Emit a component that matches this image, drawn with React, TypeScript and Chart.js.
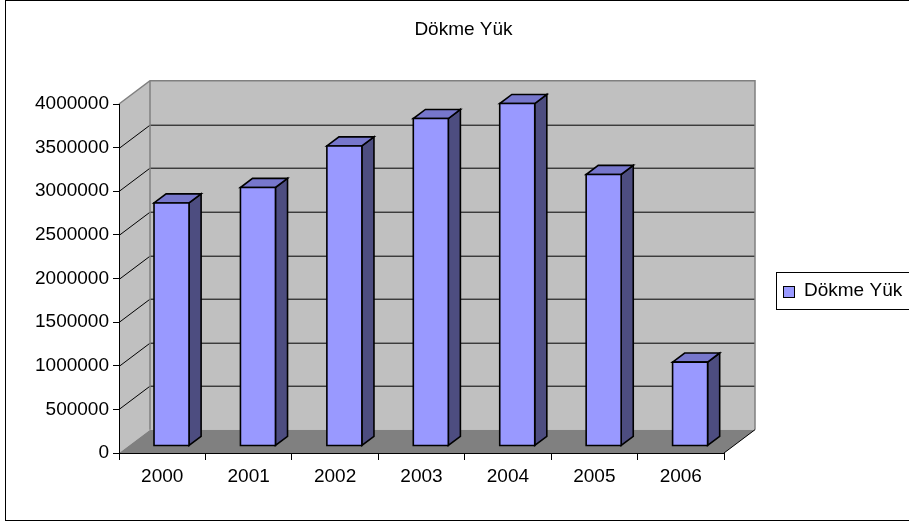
import React, { useEffect, useRef } from "react";
import { Chart, registerables } from "chart.js";

Chart.register(...registerables);

// Bulk cargo handled per year
const years = ["2000", "2001", "2002", "2003", "2004", "2005", "2006"];
const bulkCargo = [2786000, 2963000, 3439000, 3753000, 3925000, 3112000, 962000];
const seriesLabel = "Dökme Yük";
const chartTitle = "Dökme Yük";
const valueAxisMax = 4000000;
const valueAxisStep = 500000;

const FONT = "'Liberation Sans', Arial, Helvetica, sans-serif";

// oblique projection of the plot box
const DEPTH = { x: 31, y: -23.3 };
const BAR_FRONT = 0.3;
const BAR_BACK = 0.69;

const BAR_FACE = "#9999FF";
const BAR_TOP = "#7777CC";
const BAR_SIDE = "#4D4D80";
const WALL = "#C0C0C0";
const FLOOR = "#808080";

function poly(ctx: CanvasRenderingContext2D, pts: number[][]) {
  ctx.beginPath();
  ctx.moveTo(pts[0][0], pts[0][1]);
  for (let i = 1; i < pts.length; i++) ctx.lineTo(pts[i][0], pts[i][1]);
  ctx.closePath();
}

const boxPlugin = {
  id: "box3d",
  afterLayout(chart: any) {
    // centre the title over the whole frame, legend area included
    const tb = chart.titleBlock;
    if (tb) {
      tb.left = 18;
      tb.right = chart.width;
    }
  },
  beforeDraw(chart: any) {
    const { ctx, chartArea: a, scales } = chart;
    const y = scales.y;
    const dx = DEPTH.x;
    const dy = DEPTH.y;
    ctx.save();
    ctx.fillStyle = "#FFFFFF";
    ctx.fillRect(0, 0, chart.width, chart.height);

    // outer frame
    ctx.strokeStyle = "#000";
    ctx.lineWidth = 1;
    ctx.strokeRect(5.5, 0.5, chart.width + 40, 520);

    const L = a.left, R = a.right, T = a.top, B = a.bottom;

    // back wall
    ctx.fillStyle = WALL;
    ctx.fillRect(L + dx, T + dy, R - L, B - T);
    // side wall
    poly(ctx, [[L, T], [L + dx, T + dy], [L + dx, B + dy], [L, B]]);
    ctx.fill();
    // floor
    ctx.fillStyle = FLOOR;
    poly(ctx, [[L, B], [R, B], [R + dx, B + dy], [L + dx, B + dy]]);
    ctx.fill();

    // gridlines across side wall and back wall
    ctx.strokeStyle = "#000";
    ctx.lineWidth = 1;
    for (const t of y.ticks) {
      if (t.value <= 0 || t.value >= valueAxisMax) continue;
      const py = Math.round(y.getPixelForValue(t.value)) + 0.5;
      ctx.beginPath();
      ctx.moveTo(L, py);
      ctx.lineTo(L + dx, py + dy);
      ctx.lineTo(R + dx, py + dy);
      ctx.stroke();
    }

    // wall outlines
    ctx.strokeStyle = "#808080";
    ctx.lineWidth = 1.5;
    ctx.beginPath();
    ctx.moveTo(L, T);
    ctx.lineTo(L + dx, T + dy);
    ctx.lineTo(R + dx, T + dy);
    ctx.lineTo(R + dx, B + dy);
    ctx.moveTo(L + dx, T + dy);
    ctx.lineTo(L + dx, B + dy);
    ctx.stroke();

    // floor right edge
    ctx.strokeStyle = "#000";
    ctx.lineWidth = 1;
    ctx.beginPath();
    ctx.moveTo(R, B);
    ctx.lineTo(R + dx, B + dy);
    ctx.stroke();
    ctx.restore();
  },
  beforeDatasetDraw(chart: any, args: any) {
    const { ctx } = chart;
    const meta = args.meta;
    const fx = DEPTH.x * BAR_FRONT;
    const fy = DEPTH.y * BAR_FRONT;
    const bx = DEPTH.x * (BAR_BACK - BAR_FRONT);
    const by = DEPTH.y * (BAR_BACK - BAR_FRONT);
    ctx.save();
    ctx.lineWidth = 1.6;
    ctx.strokeStyle = "#000";
    ctx.lineJoin = "miter";
    for (const el of meta.data) {
      const { x, y, base, width } = el.getProps(["x", "y", "base", "width"], true);
      const x0 = x - width / 2 + fx;
      const x1 = x + width / 2 + fx;
      const top = y + fy;
      const bot = base + fy;
      // side face
      ctx.fillStyle = BAR_SIDE;
      poly(ctx, [[x1, top], [x1 + bx, top + by], [x1 + bx, bot + by], [x1, bot]]);
      ctx.fill();
      ctx.stroke();
      // top face
      ctx.fillStyle = BAR_TOP;
      poly(ctx, [[x0, top], [x1, top], [x1 + bx, top + by], [x0 + bx, top + by]]);
      ctx.fill();
      ctx.stroke();
      // front face
      ctx.fillStyle = BAR_FACE;
      poly(ctx, [[x0, top], [x1, top], [x1, bot], [x0, bot]]);
      ctx.fill();
      ctx.stroke();
    }
    ctx.restore();
    return false;
  },
  afterDraw(chart: any) {
    const { ctx } = chart;
    const ds = chart.data.datasets[0];
    ctx.save();
    // legend box
    ctx.strokeStyle = "#000";
    ctx.lineWidth = 1;
    ctx.fillStyle = "#FFFFFF";
    ctx.fillRect(776.5, 272.5, 200, 37);
    ctx.strokeRect(776.5, 272.5, 200, 37);
    // swatch
    ctx.fillStyle = ds.backgroundColor;
    ctx.fillRect(783.5, 286.5, 11, 11);
    ctx.strokeRect(783.5, 286.5, 11, 11);
    // label
    ctx.fillStyle = "#000";
    ctx.font = `19px ${FONT}`;
    ctx.textBaseline = "middle";
    ctx.textAlign = "left";
    ctx.fillText(ds.label, 804, 291);
    ctx.restore();
  },
};

export default function App() {
  const ref = useRef<HTMLCanvasElement | null>(null);

  useEffect(() => {
    if (!ref.current) return;
    const chart = new Chart(ref.current, {
      type: "bar",
      data: {
        labels: years,
        datasets: [
          {
            label: seriesLabel,
            data: bulkCargo,
            backgroundColor: BAR_FACE,
            borderColor: "#000",
            borderWidth: 1,
            categoryPercentage: 1,
            barPercentage: 0.405,
          },
        ],
      },
      options: {
        responsive: false,
        animation: false,
        devicePixelRatio: 1,
        layout: { padding: { left: 0, right: 185, top: 0, bottom: 0 } },
        plugins: {
          legend: { display: false },
          tooltip: { enabled: false },
          title: {
            display: true,
            text: chartTitle,
            color: "#000",
            font: { family: FONT, size: 19, weight: "normal", lineHeight: 1.2 },
            padding: { top: 18, bottom: 63.2 },
          },
        },
        scales: {
          x: {
            type: "category",
            offset: true,
            grid: {
              offset: true,
              drawOnChartArea: false,
              drawTicks: true,
              tickLength: 7,
              color: "#000",
            },
            border: { color: "#000", width: 1 },
            ticks: {
              color: "#000",
              padding: 5,
              maxRotation: 0,
              font: { family: FONT, size: 19 },
            },
            afterFit(scale: any) {
              scale.height = 70;
            },
          },
          y: {
            min: 0,
            max: valueAxisMax,
            grid: {
              drawOnChartArea: false,
              drawTicks: true,
              tickLength: 6,
              color: "#000",
            },
            border: { color: "#000", width: 1 },
            ticks: {
              stepSize: valueAxisStep,
              color: "#000",
              padding: 4,
              font: { family: FONT, size: 19 },
              callback: (v: any) => String(v),
            },
            afterFit(scale: any) {
              scale.width = 119;
            },
          },
        },
      },
      plugins: [boxPlugin],
    });
    return () => chart.destroy();
  }, []);

  return (
    <div style={{ position: "absolute", left: 0, top: 0, width: 909, height: 523, background: "#fff" }}>
      <canvas ref={ref} width={909} height={523} style={{ display: "block" }} />
    </div>
  );
}
